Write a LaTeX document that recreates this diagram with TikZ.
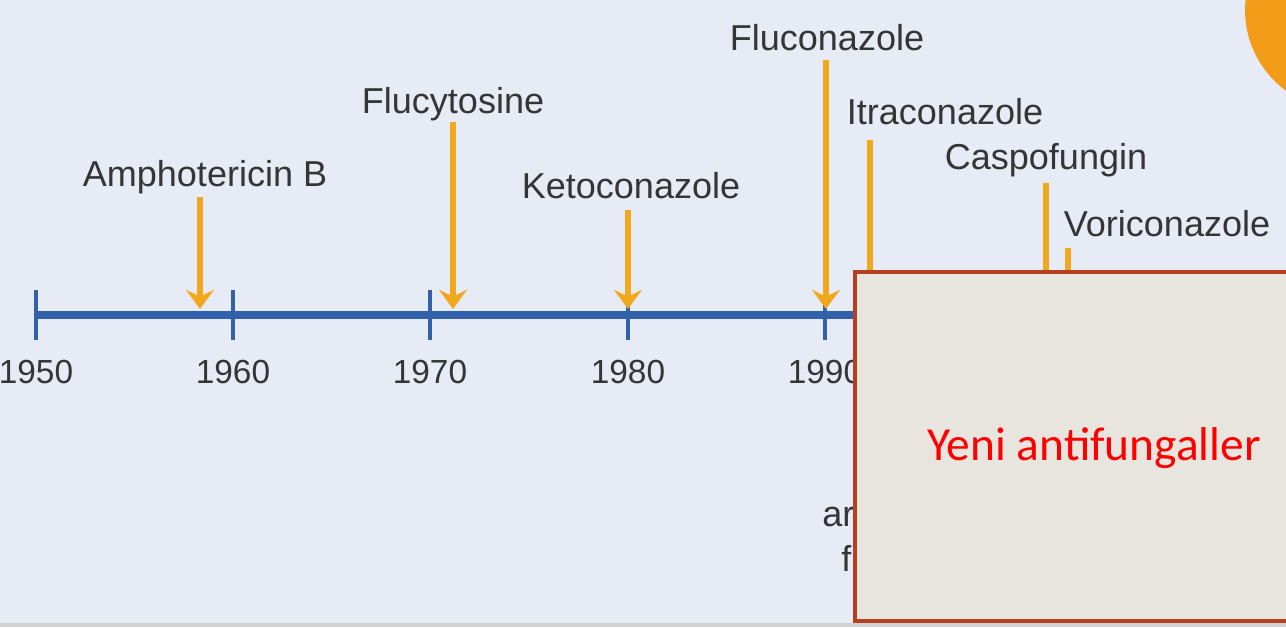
\documentclass[tikz,border=0pt]{standalone}
\usepackage{fontspec}
\setmainfont{Liberation Sans}
\newfontfamily\calibrifont{Carlito}
\usetikzlibrary{arrows.meta, positioning}
\definecolor{bgblue}{HTML}{E7EBF5}
\definecolor{lineblue}{HTML}{3360AA}
\definecolor{arroworange}{HTML}{F2A81D}
\definecolor{circorange}{HTML}{F39C1A}
\definecolor{labelgray}{HTML}{353535}
\definecolor{boxbeige}{HTML}{E8E4DE}
\definecolor{boxred}{HTML}{B5401F}

\begin{document}
\begin{tikzpicture}[x=0.02cm, y=-0.02cm,
  axisline/.style={line width=4.5pt, draw=lineblue},
  yeartick/.style={line width=2.6pt, draw=lineblue},
  yearlbl/.style={font=\fontsize{19}{19}\selectfont, text=labelgray, inner sep=0pt},
  druglbl/.style={font=\fontsize{20.5}{20.5}\selectfont, text=labelgray, inner sep=0pt},
  drugarrow/.style={line width=3.4pt, draw=arroworange, -{Stealth[length=11pt, width=16pt, inset=4pt]}}]
\useasboundingbox (0,0) rectangle (1286,627);
\clip (0,0) rectangle (1286,627);
\fill[bgblue] (0,0) rectangle (1286,627);
\fill[gray!35] (0,623) rectangle (1286,627);

% orange disc in the corner
\fill[circorange] (1345,10) circle (2cm);

% time axis
\coordinate (axisstart) at (35,315);
\coordinate (axisend) at (870,315);
\draw[axisline] (axisstart) -- (axisend);

% decades
\foreach \yr/\xx in {1950/36, 1960/233, 1970/430, 1980/628, 1990/825} {
  \coordinate (top\yr) at (\xx,290);
  \coordinate (bot\yr) at (\xx,340);
  \draw[yeartick] (top\yr) -- (bot\yr);
  \node[yearlbl] (lbl\yr) at (\xx,372) {\yr};
}

% drugs: label position, arrow x, arrow top
\foreach \nm/\txt/\lx/\ly/\ax/\at in {
  ampho/Amphotericin B/205/177/200/197,
  flucyt/Flucytosine/453/104/453/122,
  keto/Ketoconazole/631/186/628/210,
  flucon/Fluconazole/827/38/826/60,
  itra/Itraconazole/945/112/870/140,
  caspo/Caspofungin/1046/160/1046/183,
  vori/Voriconazole/1167/224/1068/248} {
  \node[druglbl] (\nm) at (\lx,\ly) {\txt};
  \coordinate (\nm top) at (\ax,\at);
  \coordinate (\nm tip) at (\ax,309);
  \draw[drugarrow] (\nm top) -- (\nm tip);
}

% text hidden under the box
\node[druglbl, anchor=west] (hiddena) at (822,517) {ar};
\node[druglbl, anchor=west] (hiddenb) at (841,558) {f};

% overlay box
\node[draw=boxred, fill=boxbeige, line width=2.4pt, minimum width=9.4cm,
  minimum height=6.98cm, inner sep=0pt] (newbox) at (1090,446.5) {};
\node[font=\calibrifont\fontsize{27}{27}\selectfont, text=red] (newtext) at (1094,448) {Yeni antifungaller};
\end{tikzpicture}
\end{document}
